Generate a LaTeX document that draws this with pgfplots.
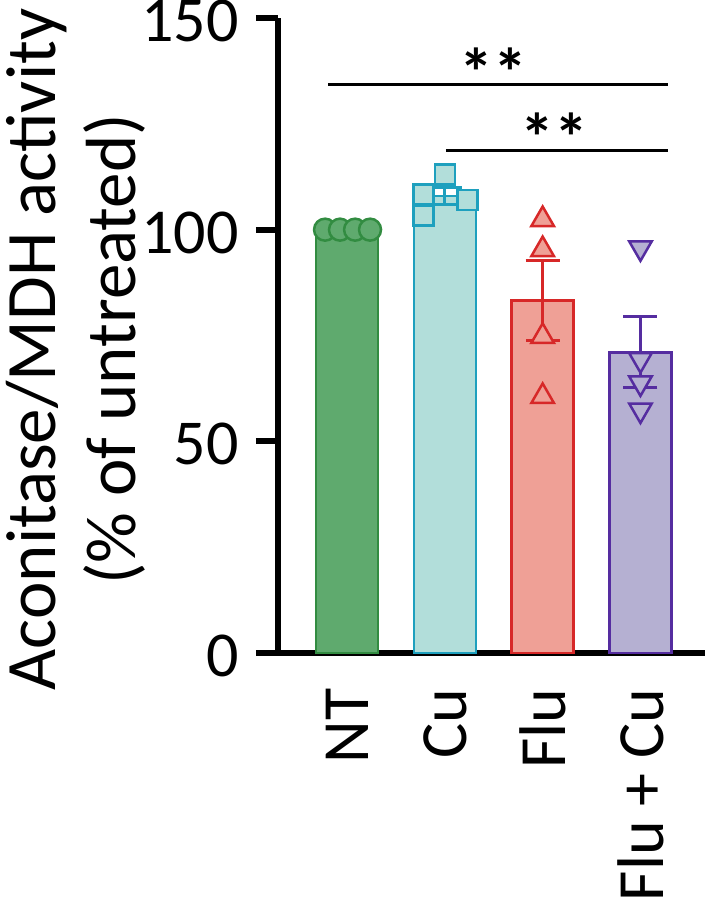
\documentclass[border=0pt]{standalone}
\usepackage{fontspec}
\setmainfont{Carlito}
\usepackage{pgfplots}
\pgfplotsset{compat=1.18}

% bar fills and edges
\definecolor{ntF}{RGB}{95,170,110}
\definecolor{ntE}{RGB}{50,140,65}
\definecolor{cuF}{RGB}{178,222,218}
\definecolor{cuE}{RGB}{30,160,190}
\definecolor{fluF}{RGB}{239,160,150}
\definecolor{fluE}{RGB}{215,40,40}
\definecolor{fcF}{RGB}{181,176,210}
\definecolor{fcE}{RGB}{85,45,160}

\begin{document}
\begin{tikzpicture}
\begin{axis}[
    scale only axis,
    width=213.5pt, height=317.5pt,
    xmin=-0.706, xmax=3.66,
    ymin=0, ymax=150,
    axis lines=left,
    axis line style={line width=3pt, -},
    clip=false,
    ytick={0,50,100,150},
    xtick={0,1,2,3},
    xticklabels={NT,Cu,Flu,Flu + Cu},
    x tick label style={rotate=90, anchor=east, inner xsep=6.5pt, font=\fontsize{33}{38}\selectfont},
    y tick label style={inner xsep=8.5pt, yshift=-1.5pt, font=\fontsize{32}{38}\selectfont},
    xtick style={draw=none},
    ytick style={line width=3pt, black},
    tick align=outside,
    major tick length=11pt,
    /pgf/number format/assume math mode=true,
    ylabel={Aconitase/MDH activity\\(\% of untreated)},
    ylabel style={align=center, font=\fontsize{35.5}{40}\selectfont, inner sep=0pt,
        at={(rel axis cs:-0.637,0.478)}, anchor=north},
]
\coordinate (O) at (rel axis cs:0,0);

% bars (means)
\addplot[ybar, bar width=0.635, bar shift=0pt, fill=ntF, draw=ntE, line width=1.25pt] coordinates {(0,100)};
\addplot[ybar, bar width=0.635, bar shift=0pt, fill=cuF, draw=cuE, line width=1.25pt] coordinates {(1,107.9)};
\addplot[ybar, bar width=0.635, bar shift=0pt, fill=fluF, draw=fluE, line width=1.25pt] coordinates {(2,83.3)};
\addplot[ybar, bar width=0.635, bar shift=0pt, fill=fcF, draw=fcE, line width=1.25pt] coordinates {(3,71)};

% individual replicates
\addplot[only marks, mark=*, mark size=5.5pt, mark options={fill=ntF, draw=ntE, line width=1.25pt}]
    coordinates {(-0.225,100) (-0.072,100) (0.082,100) (0.235,100)};
\addplot[only marks, mark=square*, mark size=5pt, mark options={fill=cuF, draw=cuE, line width=1.25pt}]
    coordinates {(1,113) (0.78,108.3) (1.23,107) (0.78,103.3)};
\addplot[only marks, mark=triangle*, mark size=6.5pt, mark options={fill=fluF, draw=fluE, line width=1.25pt}]
    coordinates {(2,102.4) (2,95.3) (2,74.8) (2,60.6)};
\addplot[only marks, mark=triangle*, mark size=6.5pt, mark options={rotate=180, fill=fcF, draw=fcE, line width=1.25pt}]
    coordinates {(3,95.7) (3,69.3) (3,63.8) (3,57.4)};

% SEM error bars
\addplot[draw=none, mark=none, error bars/.cd, y dir=both, y explicit,
    error bar style={line width=1.5pt, draw=cuE},
    error mark options={rotate=90, line width=1.5pt, mark size=8.5pt, draw=cuE}]
    coordinates {(1,107.9) +- (0,2)};
\addplot[draw=none, mark=none, error bars/.cd, y dir=both, y explicit,
    error bar style={line width=1.5pt, draw=fluE},
    error mark options={rotate=90, line width=1.5pt, mark size=8.5pt, draw=fluE}]
    coordinates {(2,83.3) +- (0,9.5)};
\addplot[draw=none, mark=none, error bars/.cd, y dir=both, y explicit,
    error bar style={line width=1.5pt, draw=fcE},
    error mark options={rotate=90, line width=1.5pt, mark size=8.5pt, draw=fcE}]
    coordinates {(3,71) +- (0,8.4)};

% significance brackets
\addplot[black, line width=1.5pt] coordinates {(-0.19,134.2) (3.28,134.2)};
\addplot[black, line width=1.5pt] coordinates {(1.01,118.8) (3.28,118.8)};
\node[anchor=base, font=\fontsize{34}{40}\selectfont\bfseries] at (axis cs:1.5,131.4) {**};
\node[anchor=base, font=\fontsize{34}{40}\selectfont\bfseries] at (axis cs:2.12,116) {**};
\end{axis}
\pgfresetboundingbox
\path (O) ++(-139pt,-123.5pt) rectangle ++(353.5pt,450pt);
\end{tikzpicture}
\end{document}
